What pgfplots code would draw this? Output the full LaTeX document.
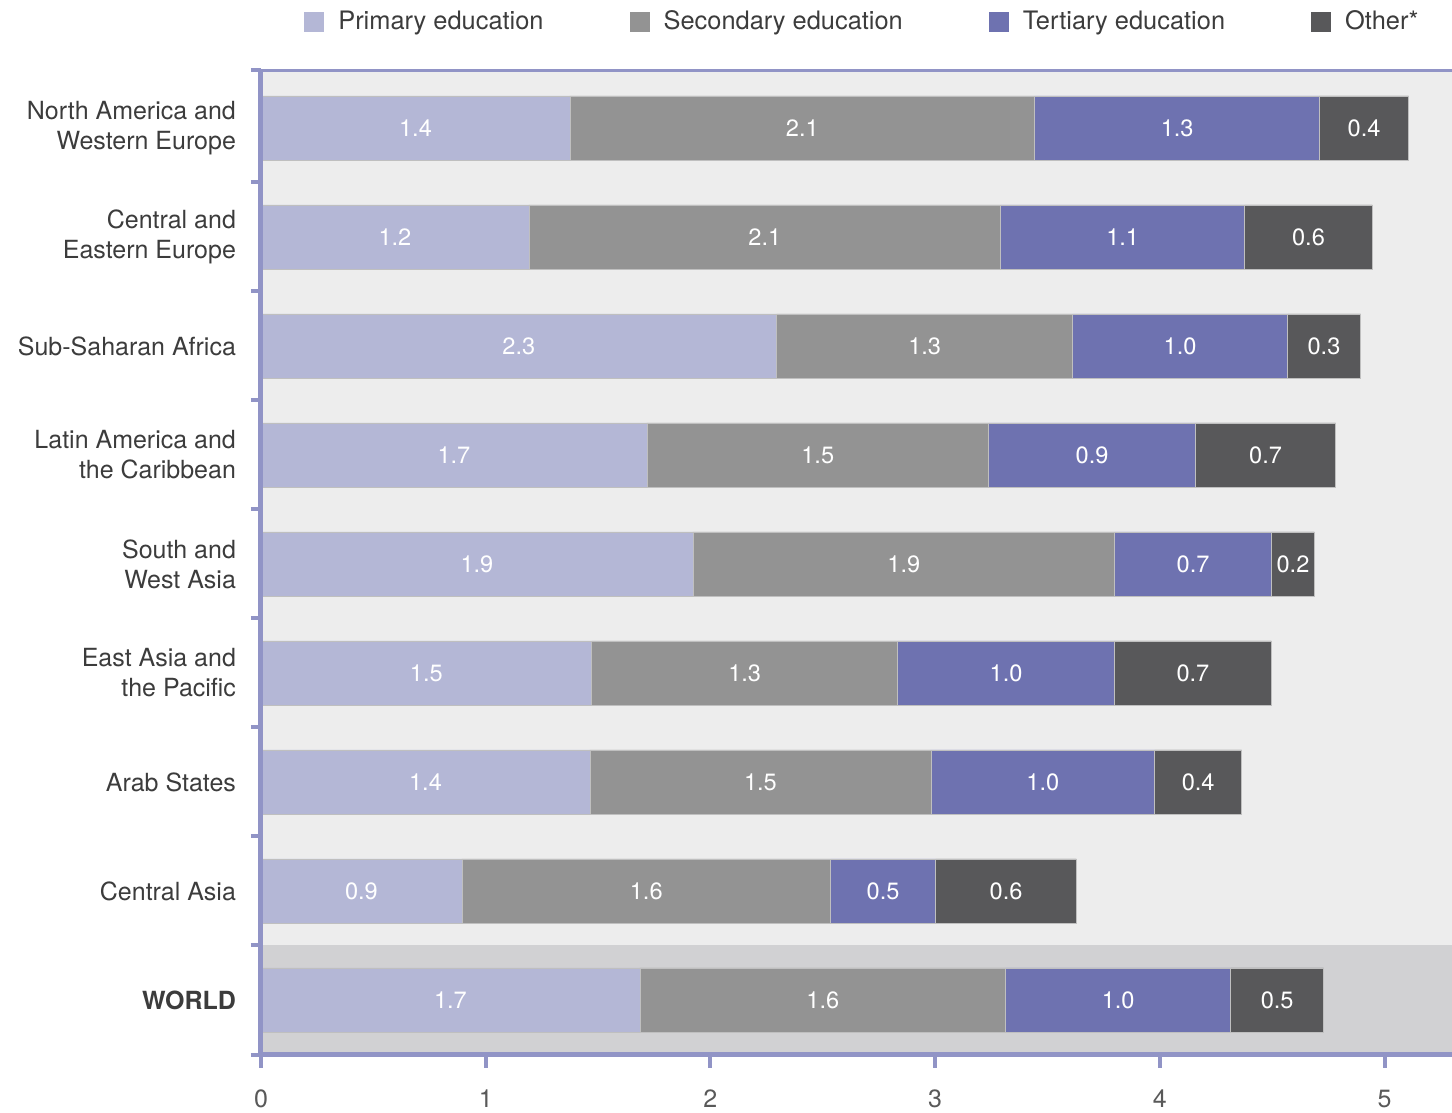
\documentclass[border=0pt]{standalone}
\usepackage{pgfplots}
\pgfplotsset{compat=1.18}
\usepackage{fontspec}
\setmainfont{TeX Gyre Heros}
\definecolor{cPrim}{HTML}{B4B7D6}
\definecolor{cSec}{HTML}{939393}
\definecolor{cTer}{HTML}{6E72B0}
\definecolor{cOth}{HTML}{58585A}
\definecolor{cAxis}{HTML}{9194C6}
\definecolor{cBg}{HTML}{EDEDED}
\definecolor{cWorld}{HTML}{D1D1D3}
\definecolor{cText}{HTML}{3C3C3C}
\begin{document}
\begin{tikzpicture}
\begin{axis}[
  scale only axis, width=595.5pt, height=492.5pt,
  xbar stacked, bar width=32pt,
  xmin=0, xmax=5.3, ymin=-0.505, ymax=8.532,
  axis x line*=bottom, axis y line*=left,
  axis line style={cAxis, line width=2.5pt},
  axis background/.style={fill=cBg, path picture={\fill[cWorld] (path picture bounding box.south west) rectangle ([yshift=54.75pt]path picture bounding box.south east);}},
  axis on top,
  tick align=outside,
  xtick={0,1,2,3,4,5},
  major x tick style={cAxis, line width=2pt},
  major tick length=6.5pt,
  ytick={0,1,2,3,4,5,6,7,8},
  major y tick style={draw=none},
  minor ytick={-0.505,0.5,1.5,2.5,3.5,4.5,5.5,6.5,7.5,8.532},
  minor y tick style={cAxis, line width=2pt},
  minor tick length=5pt,
  yticklabels={{\textbf{WORLD}},{Central Asia},{Arab States},{East Asia and\\the Pacific},{South and\\West Asia},{Latin America and\\the Caribbean},{Sub-Saharan Africa},{Central and\\Eastern Europe},{North America and\\Western Europe}},
  yticklabel style={align=right, font=\fontsize{12.5}{15}\selectfont, text=cText, xshift=-2.5pt},
  xticklabel style={font=\fontsize{12.5}{15}\selectfont, text=cText!85, yshift=-7.5pt},
  /pgf/number format/assume math mode=true,
  nodes near coords, point meta=explicit symbolic,
  every node near coord/.append style={anchor=center, text=white, font=\fontsize{11.8}{13}\selectfont},
  legend columns=4,
  legend style={at={(0.031,1)}, anchor=west, yshift=24pt, draw=none, fill=none, font=\fontsize{12.7}{15}\selectfont, text=cText,
    /tikz/every odd column/.append style={column sep=5pt},
    /tikz/every even column/.append style={column sep=41pt}},
  legend image code/.code={\fill[#1,draw=none] (0pt,-5pt) rectangle (10pt,5pt);},
]
\addplot[fill=cPrim, draw=black!25, line width=0.3pt] coordinates {
 (1.686,0)[1.7] (0.894,1)[0.9] (1.464,2)[1.4] (1.472,3)[1.5] (1.922,4)[1.9]
 (1.717,5)[1.7] (2.295,6)[2.3] (1.192,7)[1.2] (1.375,8)[1.4]};
\addlegendentry{Primary education}
\addplot[fill=cSec, draw=black!25, line width=0.3pt] coordinates {
 (1.628,0)[1.6] (1.641,1)[1.6] (1.517,2)[1.5] (1.361,3)[1.3] (1.877,4)[1.9]
 (1.521,5)[1.5] (1.317,6)[1.3] (2.100,7)[2.1] (2.068,8)[2.1]};
\addlegendentry{Secondary education}
\addplot[fill=cTer, draw=black!25, line width=0.3pt] coordinates {
 (1.001,0)[1.0] (0.467,1)[0.5] (0.996,2)[1.0] (0.965,3)[1.0] (0.698,4)[0.7]
 (0.921,5)[0.9] (0.956,6)[1.0] (1.085,7)[1.1] (1.268,8)[1.3]};
\addlegendentry{Tertiary education}
\addplot[fill=cOth, draw=black!25, line width=0.3pt] coordinates {
 (0.414,0)[0.5] (0.627,1)[0.6] (0.387,2)[0.4] (0.698,3)[0.7] (0.191,4)[0.2]
 (0.623,5)[0.7] (0.325,6)[0.3] (0.569,7)[0.6] (0.396,8)[0.4]};
\addlegendentry{Other*}
\draw[cAxis, line width=2.5pt] (rel axis cs:0,1) -- (rel axis cs:1,1);
\end{axis}
\pgfresetboundingbox
\path[use as bounding box] ([xshift=-130.5pt,yshift=-29pt]current axis.south west) rectangle ([yshift=35pt]current axis.north east);
\end{tikzpicture}
\end{document}
